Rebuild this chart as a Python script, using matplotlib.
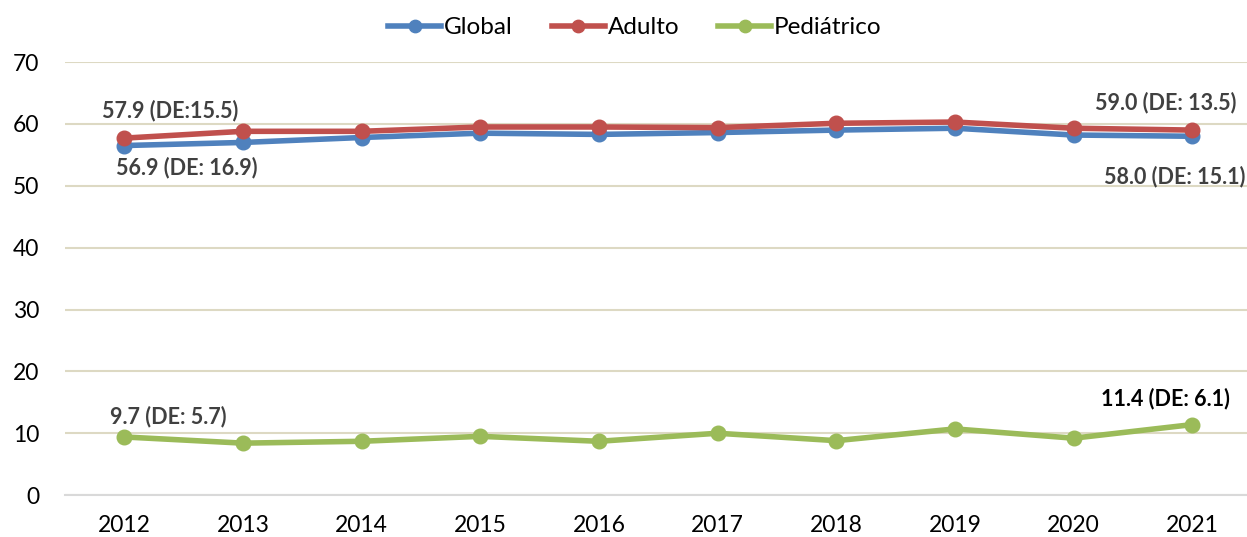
import matplotlib.pyplot as plt

# Data
years = ["2012", "2013", "2014", "2015", "2016", "2017", "2018", "2019", "2020", "2021"]
global_vals = [56.5, 57.0, 57.8, 58.5, 58.3, 58.6, 59.0, 59.3, 58.2, 58.0]
adult_vals = [57.7, 58.8, 58.8, 59.5, 59.5, 59.4, 60.1, 60.3, 59.3, 59.0]
ped_vals = [9.4, 8.4, 8.7, 9.5, 8.7, 10.0, 8.8, 10.7, 9.2, 11.4]

series_names = ["Global", "Adulto", "Pediátrico"]
series_colors = ["#4F81BD", "#C0504D", "#9BBB59"]

# annotations: (series index, point index, text, offset in points, ha, colour)
notes = [
    (1, 0, "57.9 (DE:15.5)", (33, 20), "center", "#404040"),
    (0, 0, "56.9 (DE: 16.9)", (45, -16), "center", "#404040"),
    (1, 9, "59.0 (DE: 13.5)", (32, 19.5), "right", "#404040"),
    (0, 9, "58.0 (DE: 15.1)", (38, -29), "right", "#404040"),
    (2, 0, "9.7 (DE: 5.7)", (32, 14.5), "center", "#404040"),
    (2, 9, "11.4 (DE: 6.1)", (-19, 19), "center", "black"),
]

plt.rcParams['font.family'] = ['Lato', 'DejaVu Sans']

fig = plt.figure(figsize=(12.47, 5.37), dpi=100)
ax = fig.add_axes([0.052, 0.078, 0.9517, 0.8065])

x = list(range(len(years)))
all_vals = [global_vals, adult_vals, ped_vals]
for vals, name, col in zip(all_vals, series_names, series_colors):
    ax.plot(x, vals, color=col, lw=4, marker="o", markersize=10.5,
            label=name, solid_joinstyle="round", zorder=3)

for s, i, txt, off, ha, col in notes:
    ax.annotate(txt, (x[i], all_vals[s][i]), xytext=off, textcoords="offset points",
                ha=ha, va="center", fontsize=15.5, fontweight="bold", color=col)

ax.set_xlim(-0.5, len(years) - 0.5)
ax.set_ylim(0, 70)
ax.set_yticks(range(0, 71, 10))
ax.set_xticks(x)
ax.set_xticklabels(years)
ax.tick_params(axis="both", labelsize=16.5, length=0)
ax.tick_params(axis="x", pad=14)
ax.tick_params(axis="y", pad=18.5)
ax.grid(axis="y", color="#DDD9C3", lw=1.5)
ax.set_axisbelow(True)
for side in ["top", "right", "left"]:
    ax.spines[side].set_visible(False)
ax.spines["bottom"].set_color("#D9D9D9")
ax.spines["bottom"].set_linewidth(1.5)

fig.legend(loc="center", bbox_to_anchor=(0.509, 0.948), ncol=3, frameon=False,
           fontsize=17.5, handlelength=2.2, handletextpad=0.1, columnspacing=1.6,
           markerscale=0.85)

fig.savefig("out.png", dpi=100)
